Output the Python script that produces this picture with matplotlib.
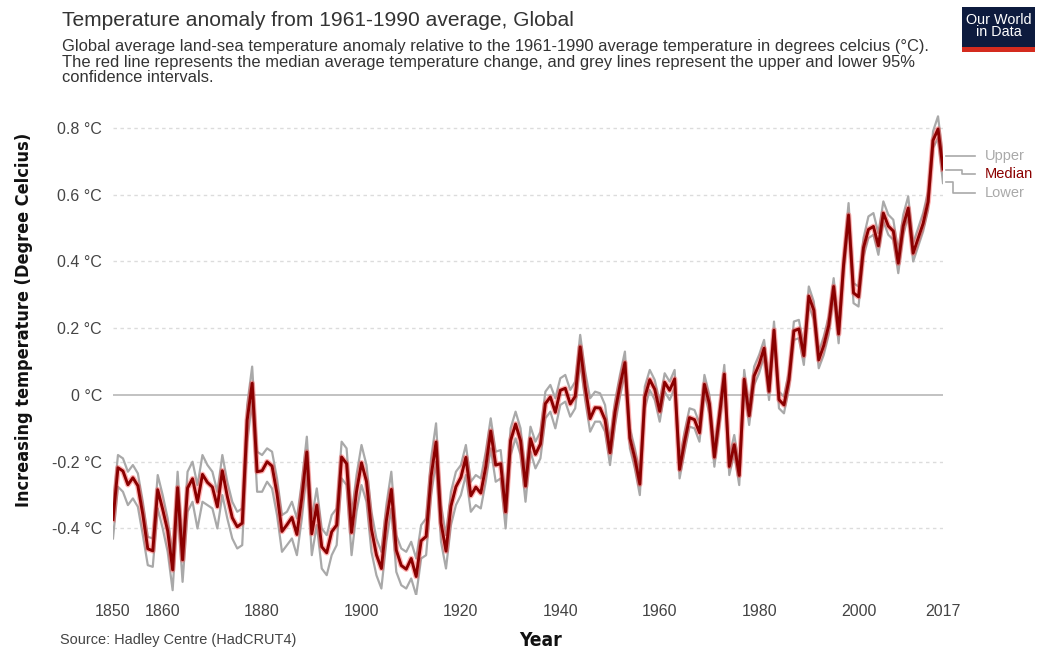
import matplotlib
matplotlib.use("Agg")
import matplotlib.pyplot as plt
from matplotlib import font_manager
from matplotlib.patches import Rectangle

years = list(range(1850, 2018))

median = [
    -0.373, -0.218, -0.228, -0.269, -0.248, -0.272, -0.358, -0.461, -0.467, -0.284,
    -0.343, -0.407, -0.524, -0.278, -0.494, -0.279, -0.251, -0.321, -0.238, -0.262,
    -0.276, -0.335, -0.227, -0.304, -0.368, -0.395, -0.384, -0.075, 0.035, -0.230,
    -0.227, -0.200, -0.213, -0.296, -0.409, -0.389, -0.367, -0.418, -0.307, -0.171,
    -0.416, -0.330, -0.455, -0.473, -0.410, -0.390, -0.186, -0.206, -0.412, -0.289,
    -0.203, -0.259, -0.402, -0.479, -0.520, -0.377, -0.283, -0.465, -0.511, -0.522,
    -0.490, -0.544, -0.437, -0.424, -0.244, -0.141, -0.383, -0.468, -0.333, -0.275,
    -0.247, -0.187, -0.302, -0.276, -0.294, -0.215, -0.108, -0.210, -0.206, -0.350,
    -0.137, -0.087, -0.137, -0.273, -0.131, -0.178, -0.147, -0.026, -0.006, -0.052,
    0.014, 0.020, -0.027, -0.004, 0.144, 0.025, -0.071, -0.038, -0.039, -0.074,
    -0.173, -0.052, 0.028, 0.097, -0.129, -0.190, -0.267, -0.007, 0.046, 0.017,
    -0.049, 0.038, 0.014, 0.048, -0.223, -0.140, -0.068, -0.074, -0.113, 0.032,
    -0.027, -0.186, -0.065, 0.062, -0.214, -0.149, -0.241, 0.047, -0.062, 0.057,
    0.092, 0.140, 0.011, 0.194, -0.014, -0.030, 0.045, 0.192, 0.198, 0.118,
    0.296, 0.254, 0.105, 0.148, 0.208, 0.325, 0.183, 0.390, 0.539, 0.306,
    0.294, 0.441, 0.496, 0.505, 0.447, 0.545, 0.506, 0.491, 0.395, 0.506,
    0.560, 0.425, 0.470, 0.514, 0.579, 0.763, 0.797, 0.677,
]

upper = [
    -0.33, -0.18, -0.19, -0.23, -0.21, -0.235, -0.32, -0.425, -0.43, -0.24,
    -0.30, -0.37, -0.48, -0.23, -0.45, -0.23, -0.20, -0.27, -0.18, -0.21,
    -0.23, -0.29, -0.18, -0.26, -0.32, -0.35, -0.34, -0.03, 0.085, -0.17,
    -0.18, -0.16, -0.17, -0.25, -0.36, -0.35, -0.32, -0.37, -0.26, -0.125,
    -0.37, -0.28, -0.40, -0.42, -0.36, -0.34, -0.14, -0.16, -0.36, -0.24,
    -0.15, -0.21, -0.35, -0.43, -0.47, -0.33, -0.23, -0.42, -0.46, -0.47,
    -0.44, -0.49, -0.39, -0.37, -0.19, -0.085, -0.33, -0.42, -0.29, -0.23,
    -0.21, -0.15, -0.26, -0.24, -0.25, -0.17, -0.07, -0.17, -0.165, -0.31,
    -0.10, -0.05, -0.10, -0.235, -0.095, -0.14, -0.11, 0.01, 0.03, -0.01,
    0.05, 0.06, 0.015, 0.04, 0.18, 0.07, -0.01, 0.01, 0.005, -0.03,
    -0.14, -0.02, 0.06, 0.13, -0.10, -0.16, -0.235, 0.025, 0.075, 0.045,
    -0.02, 0.065, 0.04, 0.075, -0.195, -0.11, -0.04, -0.045, -0.085, 0.06,
    0.0, -0.16, -0.04, 0.09, -0.185, -0.12, -0.215, 0.075, -0.035, 0.085,
    0.12, 0.165, 0.04, 0.22, 0.01, -0.005, 0.07, 0.22, 0.225, 0.145,
    0.325, 0.28, 0.13, 0.175, 0.235, 0.35, 0.21, 0.415, 0.575, 0.335,
    0.325, 0.47, 0.535, 0.545, 0.485, 0.58, 0.54, 0.525, 0.43, 0.54,
    0.595, 0.455, 0.50, 0.545, 0.61, 0.79, 0.835, 0.71,
]

lower = [
    -0.43, -0.275, -0.29, -0.33, -0.31, -0.335, -0.42, -0.51, -0.515, -0.34,
    -0.40, -0.47, -0.585, -0.34, -0.56, -0.35, -0.32, -0.40, -0.32, -0.33,
    -0.34, -0.40, -0.30, -0.37, -0.43, -0.46, -0.45, -0.14, -0.02, -0.29,
    -0.29, -0.26, -0.28, -0.36, -0.47, -0.45, -0.43, -0.48, -0.37, -0.23,
    -0.48, -0.39, -0.52, -0.54, -0.48, -0.45, -0.25, -0.27, -0.48, -0.35,
    -0.27, -0.32, -0.47, -0.54, -0.58, -0.44, -0.34, -0.53, -0.57, -0.58,
    -0.55, -0.60, -0.49, -0.48, -0.30, -0.20, -0.44, -0.52, -0.39, -0.33,
    -0.30, -0.24, -0.35, -0.33, -0.34, -0.26, -0.16, -0.26, -0.25, -0.40,
    -0.18, -0.13, -0.18, -0.32, -0.17, -0.22, -0.19, -0.07, -0.05, -0.10,
    -0.03, -0.02, -0.065, -0.04, 0.10, -0.015, -0.11, -0.08, -0.08, -0.11,
    -0.21, -0.09, -0.005, 0.065, -0.16, -0.22, -0.30, -0.04, 0.015, -0.015,
    -0.08, 0.01, -0.015, 0.02, -0.25, -0.17, -0.095, -0.10, -0.14, 0.005,
    -0.055, -0.215, -0.095, 0.035, -0.24, -0.175, -0.27, 0.02, -0.09, 0.03,
    0.065, 0.115, -0.015, 0.17, -0.04, -0.055, 0.02, 0.165, 0.17, 0.09,
    0.27, 0.225, 0.08, 0.12, 0.18, 0.30, 0.155, 0.365, 0.51, 0.275,
    0.265, 0.415, 0.47, 0.48, 0.42, 0.52, 0.48, 0.465, 0.365, 0.48,
    0.535, 0.40, 0.445, 0.49, 0.555, 0.74, 0.77, 0.635,
]

xticks = [1850, 1860, 1880, 1900, 1920, 1940, 1960, 1980, 2000, 2017]
yticks = [-0.4, -0.2, 0, 0.2, 0.4, 0.6, 0.8]
ytick_labels = ["-0.4 °C", "-0.2 °C", "0 °C", "0.2 °C", "0.4 °C", "0.6 °C", "0.8 °C"]

plt.rcParams['font.family'] = ['Liberation Sans', 'DejaVu Sans']

W, H = 1039, 656


def condensed_bold():
    best = None
    for f in font_manager.fontManager.ttflist:
        st = str(f.stretch).lower()
        nm = f.name.lower()
        fn = f.fname.lower()
        is_cond = ('condensed' in st or 'narrow' in st or 'condensed' in nm or 'narrow' in nm
                   or 'condensed' in fn or 'narrow' in fn)
        if not is_cond:
            continue
        if 'italic' in str(f.style).lower() or 'oblique' in str(f.style).lower():
            continue
        w = f.weight if isinstance(f.weight, int) else (700 if 'bold' in str(f.weight) else 400)
        score = -abs(w - 700)
        if best is None or score > best[0]:
            best = (score, f.fname)
    if best:
        return font_manager.FontProperties(fname=best[1])
    return font_manager.FontProperties(family='Roboto', weight='bold')


cprop = condensed_bold()

fig = plt.figure(figsize=(W / 100, H / 100), dpi=100)
ax = fig.add_axes([113 / W, 1 - 595.2 / H, 830 / W, (595.2 - 111.3) / H])

ax.plot(years, upper, color='#a9a9a9', lw=1.6, zorder=2)
ax.plot(years, lower, color='#a9a9a9', lw=1.6, zorder=2)
ax.plot(years, median, color='#ff2a2a', lw=4.0, alpha=0.35, zorder=3, solid_joinstyle='round')
ax.plot(years, median, color='#8b0000', lw=2.1, zorder=4, solid_joinstyle='round')

ax.set_xlim(1850, 2017)
ax.set_ylim(-0.6, 0.85)
ax.set_xticks(xticks)
ax.set_xticklabels([str(t) for t in xticks])
ax.set_yticks(yticks)
ax.set_yticklabels(ytick_labels)
ax.tick_params(axis='both', length=0, labelsize=11.5, labelcolor='#444444')
ax.tick_params(axis='y', pad=8)
ax.tick_params(axis='x', pad=6)
for sp in ax.spines.values():
    sp.set_visible(False)

for t in yticks:
    if t == 0:
        ax.axhline(t, color='#bdbdbd', lw=1.3, zorder=1)
    else:
        ax.axhline(t, color='#dcdcdc', lw=1.0, ls=(0, (2.5, 2.5)), zorder=1)


def px(x, y):
    return (x / W, 1 - y / H)


renderer = fig.canvas.get_renderer()


def fit(t, target, dim='w'):
    bb = t.get_window_extent(renderer)
    cur = bb.width if dim == 'w' else bb.height
    if cur > 0:
        t.set_fontsize(t.get_fontsize() * target / cur)


ylab = fig.text(*px(24, 320), "Increasing temperature (Degree Celcius)",
                fontproperties=cprop, fontsize=16, color='#111111',
                rotation=90, ha='center', va='center')
fit(ylab, 375, 'h')

year = fig.text(*px(541, 640), "Year", fontproperties=cprop, fontsize=18,
                color='#111111', ha='center', va='center')
fit(year, 43, 'w')

title = fig.text(*px(62, 21), "Temperature anomaly from 1961-1990 average, Global",
                 fontsize=17, color='#333333', ha='left', va='center')
fit(title, 511, 'w')

sub_lines = [
    "Global average land-sea temperature anomaly relative to the 1961-1990 average temperature in degrees celcius (°C).",
    "The red line represents the median average temperature change, and grey lines represent the upper and lower 95%",
    "confidence intervals.",
]
sub0 = fig.text(*px(62, 47), sub_lines[0], fontsize=11, color='#333333',
                ha='left', va='center')
fit(sub0, 860, 'w')
sub_size = sub0.get_fontsize()
fig.text(*px(62, 62.5), sub_lines[1], fontsize=sub_size, color='#333333',
         ha='left', va='center')
fig.text(*px(62, 78), sub_lines[2], fontsize=sub_size, color='#333333',
         ha='left', va='center')

src = fig.text(*px(60, 640), "Source: Hadley Centre (HadCRUT4)", fontsize=9.5,
               color='#444444', ha='left', va='center')
fit(src, 235, 'w')

# OWID logo
fig.patches.append(Rectangle(px(962, 52), 73 / W, 45 / H,
                             transform=fig.transFigure, facecolor='#0d1b3e', edgecolor='none'))
fig.patches.append(Rectangle(px(962, 52), 73 / W, 5 / H,
                             transform=fig.transFigure, facecolor='#d42b1e', edgecolor='none'))
logo = fig.text(*px(998.5, 26), "Our World\nin Data", fontsize=10.5, color='white',
                ha='center', va='center', linespacing=0.9)
fit(logo, 66, 'w')

# series labels with leader lines
lines = [
    ([946, 975], [156, 156]),
    ([946, 962, 962, 975], [170, 170, 174, 174]),
    ([946, 953, 953, 975], [182, 182, 193, 193]),
]
for xs, ys in lines:
    fig.add_artist(plt.Line2D([x / W for x in xs], [1 - y / H for y in ys],
                              transform=fig.transFigure, color='#a9a9a9', lw=1.2))
fig.text(*px(985, 156), "Upper", fontsize=10.5, color='#a9a9a9', ha='left', va='center')
fig.text(*px(985, 174), "Median", fontsize=10.5, color='#8b0000', ha='left', va='center')
fig.text(*px(985, 193), "Lower", fontsize=10.5, color='#a9a9a9', ha='left', va='center')

fig.savefig("out.png", dpi=100)
